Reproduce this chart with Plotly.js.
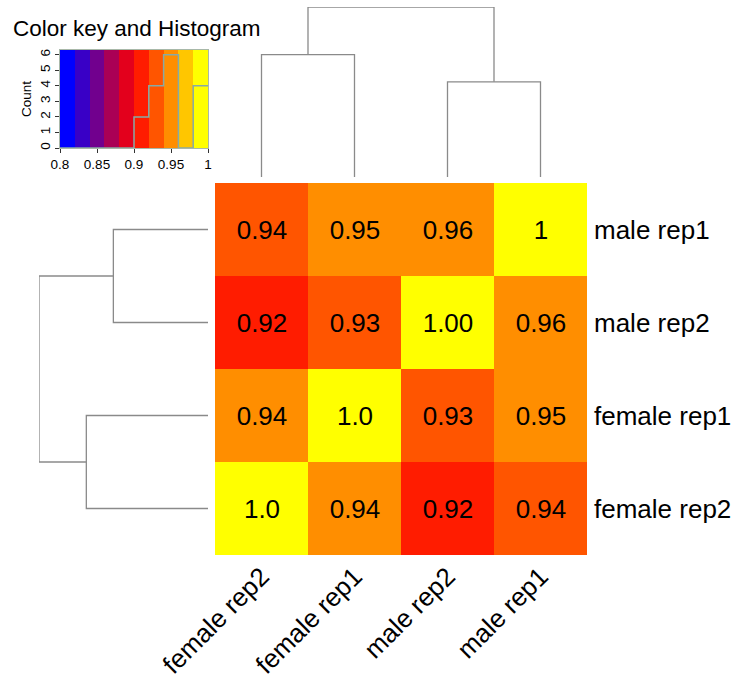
<!DOCTYPE html>
<html>
<head>
<meta charset="utf-8">
<script src="https://cdn.plot.ly/plotly-3.0.1.min.js"></script>
<style>html,body{margin:0;padding:0;background:#fff;}#chart{width:744px;height:683px;}</style>
</head>
<body>
<div id="chart"></div>
<script>
// ---- data ----
const colLabels = ["female rep2", "female rep1", "male rep2", "male rep1"];
const rowLabels = ["male rep1", "male rep2", "female rep1", "female rep2"];
const cellText = [
  ["0.94", "0.95", "0.96", "1"],
  ["0.92", "0.93", "1.00", "0.96"],
  ["0.94", "1.0", "0.93", "0.95"],
  ["1.0", "0.94", "0.92", "0.94"]
];
const cellValues = [
  [0.938, 0.952, 0.958, 1.000],
  [0.918, 0.932, 1.000, 0.958],
  [0.942, 1.000, 0.932, 0.952],
  [1.000, 0.942, 0.918, 0.938]
];
const keyBreaks = [0.80, 0.82, 0.84, 0.86, 0.88, 0.90, 0.92, 0.94, 0.96, 0.98, 1.00];
const keyMids = [0.81, 0.83, 0.85, 0.87, 0.89, 0.91, 0.93, 0.95, 0.97, 0.99];
const histCounts = [0, 0, 0, 0, 0, 2, 4, 6, 0, 4];
const keyTickVals = [0.8, 0.85, 0.9, 0.95, 1];
const keyTickText = ["0.8", "0.85", "0.9", "0.95", "1"];
const palette = ["#0000FF", "#3900C6", "#71008E", "#AA0055", "#E3001C",
                 "#FF1C00", "#FF5500", "#FF8E00", "#FFC600", "#FFFF00"];
// dendrograms: leaf pairs [leafA, leafB, mergeHeight], then root height
const colPairs = [[0, 1, 0.72], [2, 3, 0.56]];
const colRoot = 1.0;
const rowPairs = [[0, 1, 0.56], [2, 3, 0.72]];
const rowRoot = 1.0;

// ---- helpers ----
const zmin = keyBreaks[0], zmax = keyBreaks[keyBreaks.length - 1];
const colorscale = [];
palette.forEach((c, i) => {
  colorscale.push([(keyBreaks[i] - zmin) / (zmax - zmin), c]);
  colorscale.push([(keyBreaks[i + 1] - zmin) / (zmax - zmin), c]);
});

function dendroSegments(pairs, root) {
  const pos = [], hgt = [];
  pairs.forEach(p => {
    pos.push(p[0], p[0], p[1], p[1], null);
    hgt.push(0, p[2], p[2], 0, null);
  });
  const m1 = (pairs[0][0] + pairs[0][1]) / 2, m2 = (pairs[1][0] + pairs[1][1]) / 2;
  pos.push(m1, m1, m2, m2);
  hgt.push(pairs[0][2], root, root, pairs[1][2]);
  return {pos, hgt};
}

const W = 744, H = 683;
const px = v => v / W;
const py = v => 1 - v / H;
const FONT = "Liberation Sans, Arial, sans-serif";
const lineCol = "#8a8a8a";

const idx = colLabels.map((_, i) => i);
const cd = dendroSegments(colPairs, colRoot);
const rd = dendroSegments(rowPairs, rowRoot);

const histX = keyBreaks.slice();
const histY = histCounts.concat([histCounts[histCounts.length - 1]]);

const traces = [
  {
    type: "heatmap", x: idx, y: idx, z: cellValues, text: cellText,
    texttemplate: "%{text}", textfont: {family: FONT, size: 26, color: "#000"},
    colorscale: colorscale, zmin: zmin, zmax: zmax, showscale: false,
    xaxis: "x", yaxis: "y", hoverinfo: "skip"
  },
  {
    type: "scatter", mode: "lines", x: cd.pos, y: cd.hgt,
    line: {color: lineCol, width: 1.3}, xaxis: "x2", yaxis: "y2", hoverinfo: "skip"
  },
  {
    type: "scatter", mode: "lines", x: rd.hgt, y: rd.pos,
    line: {color: lineCol, width: 1.3}, xaxis: "x3", yaxis: "y3", hoverinfo: "skip"
  },
  {
    type: "heatmap", x: keyBreaks, y: [0, 6.3], z: [keyMids],
    colorscale: colorscale, zmin: zmin, zmax: zmax, showscale: false,
    xaxis: "x4", yaxis: "y4", hoverinfo: "skip"
  },
  {
    type: "scatter", mode: "lines", x: histX, y: histY,
    line: {color: "#86aaa6", width: 1.5, shape: "hv"},
    xaxis: "x4", yaxis: "y4", hoverinfo: "skip"
  }
];

const hmX = [px(215), px(587)];
const hmY = [py(555), py(183)];

const layout = {
  width: W, height: H, margin: {l: 0, r: 0, t: 0, b: 0},
  paper_bgcolor: "#fff", plot_bgcolor: "rgba(0,0,0,0)", showlegend: false,
  font: {family: FONT, color: "#000"},
  xaxis: {
    domain: hmX, range: [-0.5, 3.5], tickvals: idx, ticktext: colLabels,
    tickangle: -45, tickfont: {size: 26, family: FONT, color: "#000"}, ticks: "", showgrid: false,
    zeroline: false, showline: false, anchor: "y", fixedrange: true
  },
  yaxis: {
    domain: hmY, range: [3.5, -0.5], tickvals: idx, ticktext: rowLabels,
    side: "right", tickfont: {size: 26, family: FONT, color: "#000"}, ticks: "", showgrid: false,
    zeroline: false, showline: false, anchor: "x", ticklabelstandoff: 6
  },
  xaxis2: {
    domain: hmX, range: [-0.5, 3.5], visible: false, anchor: "y2"
  },
  yaxis2: {
    domain: [py(177), py(7)], range: [0, colRoot], visible: false, anchor: "x2"
  },
  xaxis3: {
    domain: [px(39), px(208)], range: [rowRoot, 0], visible: false, anchor: "y3"
  },
  yaxis3: {
    domain: hmY, range: [3.5, -0.5], visible: false, anchor: "x3"
  },
  xaxis4: {
    domain: [px(60), px(208)], range: [zmin, zmax], anchor: "y4",
    tickvals: keyTickVals, ticktext: keyTickText, ticks: "outside", ticklen: 4,
    tickcolor: "#333", tickfont: {size: 13.5, family: FONT, color: "#000"},
    showline: true, linecolor: "#a8b8a8", mirror: true, showgrid: false, zeroline: false
  },
  yaxis4: {
    domain: [py(148), py(50)], range: [0, 6.3], anchor: "x4",
    tickvals: [0, 1, 2, 3, 4, 5, 6], ticks: "outside", ticklen: 4, tickcolor: "#333",
    tickangle: -90, tickfont: {size: 13.5, family: FONT, color: "#000"},
    title: {text: "Count", font: {size: 13.5, family: FONT, color: "#000"}, standoff: 2},
    showline: true, linecolor: "#a8b8a8", mirror: true, showgrid: false, zeroline: false
  },
  annotations: [
    {
      text: "Color key and Histogram", xref: "paper", yref: "paper",
      x: px(11), y: py(28), xanchor: "left", yanchor: "middle", showarrow: false,
      font: {size: 22.5, family: FONT, color: "#000"}
    }
  ]
};

Plotly.newPlot("chart", traces, layout, {staticPlot: true, displayModeBar: false});
</script>
</body>
</html>
